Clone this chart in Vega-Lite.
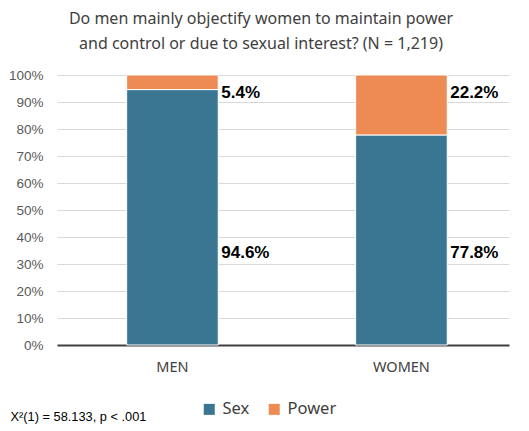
{
  "$schema": "https://vega.github.io/schema/vega-lite/v6.json",
  "width": 452,
  "height": 270,
  "autosize": {"type": "none"},
  "padding": {"left": 57, "top": 75, "right": 20, "bottom": 86},
  "background": "white",
  "title": {
    "text": ["Do men mainly objectify women to maintain power", "and control or due to sexual interest? (N = 1,219)"],
    "fontSize": 16,
    "font": "Noto Sans",
    "fontWeight": "normal",
    "color": "#404040",
    "lineHeight": 25,
    "anchor": "middle",
    "dx": -22,
    "offset": 16
  },
  "data": {
    "values": [
      {"group": "MEN", "type": "Sex", "value": 0.946},
      {"group": "MEN", "type": "Power", "value": 0.054},
      {"group": "WOMEN", "type": "Sex", "value": 0.778},
      {"group": "WOMEN", "type": "Power", "value": 0.222}
    ]
  },
  "config": {
    "view": {"stroke": null},
    "axisY": {
      "format": ".0%",
      "tickCount": 10,
      "labelOverlap": false,
      "title": null,
      "domain": false,
      "ticks": false,
      "gridColor": "#d9d9d9",
      "labelFont": "Liberation Sans",
      "labelFontSize": 13.5,
      "labelColor": "#595959",
      "labelPadding": 14
    }
  },
  "layer": [
    {
      "mark": {"type": "bar", "stroke": "white", "strokeWidth": 1},
      "encoding": {
        "x": {
          "field": "group",
          "type": "nominal",
          "scale": {"paddingInner": 0.6, "paddingOuter": 0.287, "align": 0.53},
          "axis": {
            "labelAngle": 0,
            "labelFontSize": 14.5,
            "labelFont": "Noto Sans",
            "labelColor": "#404040",
            "labelPadding": 15,
            "ticks": false,
            "domainColor": "#404040",
            "domainWidth": 2,
            "title": "X²(1) = 58.133,  p < .001",
            "titleFont": "Liberation Sans",
            "titleFontSize": 12.8,
            "titleFontWeight": "normal",
            "titleColor": "#000000",
            "titleAnchor": "start",
            "titleAlign": "left",
            "titleBaseline": "alphabetic",
            "titleX": -47,
            "titleY": 75
          }
        },
        "y": {
          "field": "value",
          "type": "quantitative",
          "stack": "zero",
          "scale": {"domain": [0, 1], "nice": false},
          "axis": {"tickCount": 10}
        },
        "color": {
          "field": "type",
          "type": "nominal",
          "scale": {"domain": ["Sex", "Power"], "range": ["#3A7691", "#EE8A53"]},
          "legend": {
            "title": null,
            "orient": "none",
            "direction": "horizontal",
            "legendX": 144,
            "legendY": 326,
            "symbolType": "square",
            "symbolSize": 121,
            "symbolStrokeWidth": 0,
            "labelFont": "Noto Sans",
            "labelFontSize": 16.5,
            "labelColor": "#404040",
            "labelOffset": 5,
            "columnPadding": 16,
            "padding": 0
          }
        },
        "order": {"field": "type", "sort": "descending"}
      }
    },
    {
      "transform": [{"filter": "datum.type === 'Sex'"}],
      "mark": {"type": "text", "align": "left", "baseline": "middle", "dx": 3, "font": "Liberation Sans", "fontSize": 17, "fontWeight": "bold", "color": "#000000"},
      "encoding": {
        "x": {"field": "group", "type": "nominal", "bandPosition": 1},
        "y": {"datum": 0.34, "type": "quantitative"},
        "text": {"field": "value", "type": "quantitative", "format": ".1%"}
      }
    },
    {
      "transform": [{"filter": "datum.type === 'Power'"}],
      "mark": {"type": "text", "align": "left", "baseline": "middle", "dx": 3, "font": "Liberation Sans", "fontSize": 17, "fontWeight": "bold", "color": "#000000"},
      "encoding": {
        "x": {"field": "group", "type": "nominal", "bandPosition": 1},
        "y": {"datum": 0.933, "type": "quantitative"},
        "text": {"field": "value", "type": "quantitative", "format": ".1%"}
      }
    }
  ]
}
